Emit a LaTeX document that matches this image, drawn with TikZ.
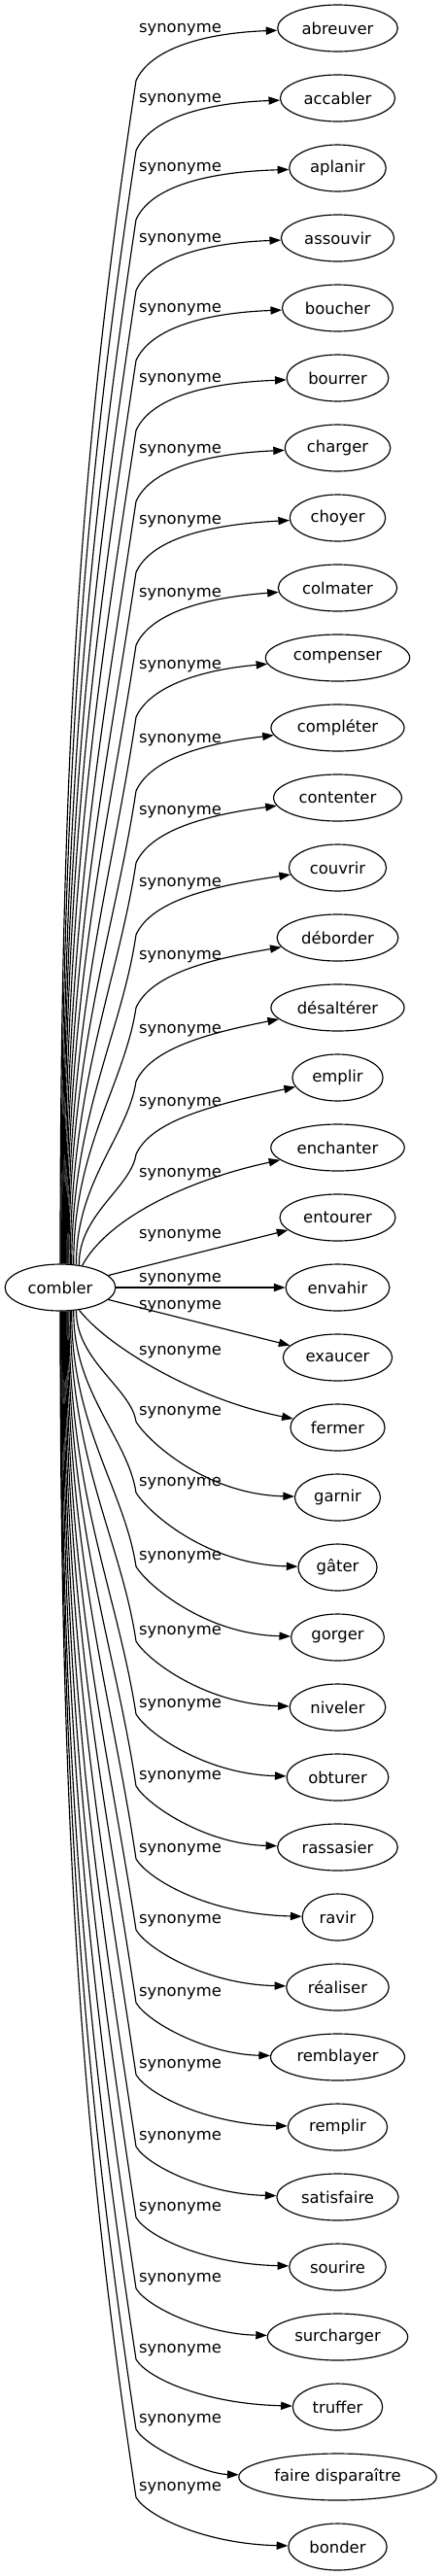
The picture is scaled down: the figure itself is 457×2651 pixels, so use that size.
\documentclass[tikz,border=0pt]{standalone}
\usepackage{fontspec}
\setmainfont{DejaVu Sans}
\usetikzlibrary{arrows.meta, shapes.geometric}
\tikzset{
	wordnode/.style={ellipse, draw, line width=0.58pt, inner xsep=3.4pt, inner ysep=0pt,
			minimum height=24pt, font=\fontsize{8.2pt}{9.8pt}\selectfont}
}
\tikzset{
	synlabel/.style={anchor=base, inner sep=0pt, font=\fontsize{8.2pt}{9.8pt}\selectfont}
}
\tikzset{
	synarrow/.style={line width=0.58pt, -{Triangle[length=5.8pt, width=4.1pt]}}
}
\begin{document}
\begin{tikzpicture}[x=0.5pt, y=-0.5pt]

			\useasboundingbox (0,0) rectangle (457,2651);

			\node[wordnode] (cb) at (62,1325) {combler};

			\begin{scope}
				\node[wordnode] (w1) at (347.5,29) {abreuver};
				\node[wordnode] (w2) at (347.5,101) {accabler};
				\node[wordnode] (w3) at (347.5,173) {aplanir};
				\node[wordnode] (w4) at (347.5,245) {assouvir};
				\node[wordnode] (w5) at (347.5,317) {boucher};
				\node[wordnode] (w6) at (347.5,389) {bourrer};
				\node[wordnode] (w7) at (347.5,461) {charger};
				\node[wordnode] (w8) at (347.5,533) {choyer};
				\node[wordnode] (w9) at (347.5,605) {colmater};
				\node[wordnode] (w10) at (347.5,677) {compenser};
				\node[wordnode] (w11) at (347.5,749) {compléter};
				\node[wordnode] (w12) at (347.5,821) {contenter};
				\node[wordnode] (w13) at (347.5,893) {couvrir};
				\node[wordnode] (w14) at (347.5,965) {déborder};
				\node[wordnode] (w15) at (347.5,1037) {désaltérer};
				\node[wordnode] (w16) at (347.5,1109) {emplir};
				\node[wordnode] (w17) at (347.5,1181) {enchanter};
				\node[wordnode] (w18) at (347.5,1253) {entourer};
				\node[wordnode] (w19) at (347.5,1325) {envahir};
				\node[wordnode] (w20) at (347.5,1397) {exaucer};
				\node[wordnode] (w21) at (347.5,1469) {fermer};
				\node[wordnode] (w22) at (347.5,1541) {garnir};
				\node[wordnode] (w23) at (347.5,1613) {gâter};
				\node[wordnode] (w24) at (347.5,1685) {gorger};
				\node[wordnode] (w25) at (347.5,1757) {niveler};
				\node[wordnode] (w26) at (347.5,1829) {obturer};
				\node[wordnode] (w27) at (347.5,1901) {rassasier};
				\node[wordnode] (w28) at (347.5,1973) {ravir};
				\node[wordnode] (w29) at (347.5,2045) {réaliser};
				\node[wordnode] (w30) at (347.5,2117) {remblayer};
				\node[wordnode] (w31) at (347.5,2189) {remplir};
				\node[wordnode] (w32) at (347.5,2261) {satisfaire};
				\node[wordnode] (w33) at (347.5,2333) {sourire};
				\node[wordnode] (w34) at (347.5,2405) {surcharger};
				\node[wordnode] (w35) at (347.5,2477) {truffer};
				\node[wordnode] (w36) at (347.5,2549) {faire disparaître};
				\node[wordnode] (w37) at (347.5,2621) {bonder};
			\end{scope}

			\begin{scope}
				\coordinate (k1) at (140,83);
				\coordinate (k2) at (140,155);
				\coordinate (k3) at (140,226);
				\coordinate (k4) at (140,299);
				\coordinate (k5) at (140,371);
				\coordinate (k6) at (140,443);
				\coordinate (k7) at (140,516);
				\coordinate (k8) at (140,589);
				\coordinate (k9) at (140,664);
				\coordinate (k10) at (140,738);
				\coordinate (k11) at (140,814);
				\coordinate (k12) at (140,888);
				\coordinate (k13) at (140,962);
				\coordinate (k14) at (140,1037);
				\coordinate (k15) at (140,1113);
				\coordinate (k16) at (140,1188);
				\coordinate (k22) at (140,1463);
				\coordinate (k23) at (140,1536);
				\coordinate (k24) at (140,1612);
				\coordinate (k25) at (140,1689);
				\coordinate (k26) at (140,1764);
				\coordinate (k27) at (140,1838);
				\coordinate (k28) at (140,1913);
				\coordinate (k29) at (140,1986);
				\coordinate (k30) at (140,2061);
				\coordinate (k31) at (140,2135);
				\coordinate (k32) at (140,2209);
				\coordinate (k33) at (140,2282);
				\coordinate (k34) at (140,2355);
				\coordinate (k35) at (140,2428);
				\coordinate (k36) at (140,2500);
				\coordinate (k37) at (140,2570);

				\draw[synarrow] (cb.90) .. controls (62,753) and (85,448) .. (k1) .. controls (155,50) and (210,34) .. (w1);
				\draw[synarrow] (cb.88) .. controls (63,785) and (88,499) .. (k2) .. controls (155,122) and (210,106) .. (w2);
				\draw[synarrow] (cb.86) .. controls (64,817) and (92,548) .. (k3) .. controls (155,193) and (210,177) .. (w3);
				\draw[synarrow] (cb.84) .. controls (64.5,850) and (95,600) .. (k4) .. controls (155,266) and (210,250) .. (w4);
				\draw[synarrow] (cb.82) .. controls (65,882) and (98,650) .. (k5) .. controls (155,338) and (210,322) .. (w5);
				\draw[synarrow] (cb.80) .. controls (66,915) and (101,700) .. (k6) .. controls (155,410) and (210,394) .. (w6);
				\draw[synarrow] (cb.78) .. controls (67,948) and (105,751) .. (k7) .. controls (155,483) and (210,467) .. (w7);
				\draw[synarrow] (cb.76) .. controls (68,981) and (108,803) .. (k8) .. controls (155,556) and (210,540) .. (w8);
				\draw[synarrow] (cb.74) .. controls (69,1014) and (111,855) .. (k9) .. controls (155,631) and (210,615) .. (w9);
				\draw[synarrow] (cb.72) .. controls (70,1048) and (115,907) .. (k10) .. controls (155,705) and (210,689) .. (w10);
				\draw[synarrow] (cb.70) .. controls (71,1082) and (118,960) .. (k11) .. controls (155,781) and (210,765) .. (w11);
				\draw[synarrow] (cb.67) .. controls (72.5,1115) and (121,1012) .. (k12) .. controls (155,855) and (210,839) .. (w12);
				\draw[synarrow] (cb.64) .. controls (74,1148) and (125,1064) .. (k13) .. controls (155,929) and (210,913) .. (w13);
				\draw[synarrow] (cb.60) .. controls (75,1182) and (128,1116) .. (k14) .. controls (155,1004) and (210,988) .. (w14);
				\draw[synarrow] (cb.55) .. controls (78,1216) and (131.5,1169) .. (k15) .. controls (155,1080) and (210,1064) .. (w15);
				\draw[synarrow] (cb.50) .. controls (80.5,1250) and (135,1222) .. (k16) .. controls (155,1155) and (210,1139) .. (w16);
				\draw[synarrow] (cb.45) .. controls (110,1255) and (190,1215) .. (w17);
				\draw[synarrow] (cb) -- (w18);
				\draw[synarrow] (cb) -- (w19);
				\draw[synarrow] (cb) -- (w20);
				\draw[synarrow] (cb.-50) .. controls (110,1385) and (200,1440) .. (w21);
				\draw[synarrow] (cb.-55) .. controls (78,1400) and (135,1429) .. (k22) .. controls (152,1483) and (212,1538) .. (w22);
				\draw[synarrow] (cb.-60) .. controls (75,1433) and (131.5,1480) .. (k23) .. controls (152,1556) and (212,1610) .. (w23);
				\draw[synarrow] (cb.-64) .. controls (73,1467) and (128,1533) .. (k24) .. controls (152,1632) and (212,1682) .. (w24);
				\draw[synarrow] (cb.-67) .. controls (72,1502) and (125,1587) .. (k25) .. controls (152,1709) and (212,1754) .. (w25);
				\draw[synarrow] (cb.-70) .. controls (70.5,1536) and (121,1640) .. (k26) .. controls (152,1784) and (212,1826) .. (w26);
				\draw[synarrow] (cb.-72) .. controls (69.5,1569) and (118,1691) .. (k27) .. controls (152,1858) and (212,1898) .. (w27);
				\draw[synarrow] (cb.-74) .. controls (68.7,1603) and (115,1744) .. (k28) .. controls (152,1933) and (212,1970) .. (w28);
				\draw[synarrow] (cb.-76) .. controls (67.8,1636) and (111,1795) .. (k29) .. controls (152,2006) and (212,2042) .. (w29);
				\draw[synarrow] (cb.-78) .. controls (67,1669) and (108,1847) .. (k30) .. controls (152,2081) and (212,2114) .. (w30);
				\draw[synarrow] (cb.-80) .. controls (66,1703) and (105,1899) .. (k31) .. controls (152,2155) and (212,2186) .. (w31);
				\draw[synarrow] (cb.-82) .. controls (65.3,1736) and (101,1951) .. (k32) .. controls (152,2229) and (212,2258) .. (w32);
				\draw[synarrow] (cb.-84) .. controls (64.5,1769) and (98,2002) .. (k33) .. controls (152,2302) and (212,2330) .. (w33);
				\draw[synarrow] (cb.-86) .. controls (63.6,1802) and (95,2053) .. (k34) .. controls (152,2375) and (212,2402) .. (w34);
				\draw[synarrow] (cb.-88) .. controls (62.8,1835) and (91,2104) .. (k35) .. controls (152,2448) and (212,2474) .. (w35);
				\draw[synarrow] (cb.-89) .. controls (62.4,1867) and (88,2155) .. (k36) .. controls (152,2520) and (212,2546) .. (w36);
				\draw[synarrow] (cb.-90) .. controls (62,1898) and (85,2204) .. (k37) .. controls (152,2590) and (212,2618) .. (w37);
			\end{scope}

			\begin{scope}
				\node[synlabel] (l1) at (185.5,33.5) {synonyme};
				\node[synlabel] (l2) at (185.5,105.5) {synonyme};
				\node[synlabel] (l3) at (185.5,176.5) {synonyme};
				\node[synlabel] (l4) at (185.5,249.5) {synonyme};
				\node[synlabel] (l5) at (185.5,321.5) {synonyme};
				\node[synlabel] (l6) at (185.5,393.5) {synonyme};
				\node[synlabel] (l7) at (185.5,466.5) {synonyme};
				\node[synlabel] (l8) at (185.5,539.5) {synonyme};
				\node[synlabel] (l9) at (185.5,614.5) {synonyme};
				\node[synlabel] (l10) at (185.5,688.5) {synonyme};
				\node[synlabel] (l11) at (185.5,764.5) {synonyme};
				\node[synlabel] (l12) at (185.5,838.5) {synonyme};
				\node[synlabel] (l13) at (185.5,912.5) {synonyme};
				\node[synlabel] (l14) at (185.5,987.5) {synonyme};
				\node[synlabel] (l15) at (185.5,1063.5) {synonyme};
				\node[synlabel] (l16) at (185.5,1138.5) {synonyme};
				\node[synlabel] (l17) at (185.5,1211.5) {synonyme};
				\node[synlabel] (l18) at (185.5,1274.5) {synonyme};
				\node[synlabel] (l19) at (185.5,1319.5) {synonyme};
				\node[synlabel] (l20) at (185.5,1347.5) {synonyme};
				\node[synlabel] (l21) at (185.5,1394.5) {synonyme};
				\node[synlabel] (l22) at (185.5,1456.5) {synonyme};
				\node[synlabel] (l23) at (185.5,1529.5) {synonyme};
				\node[synlabel] (l24) at (185.5,1605.5) {synonyme};
				\node[synlabel] (l25) at (185.5,1682.5) {synonyme};
				\node[synlabel] (l26) at (185.5,1757.5) {synonyme};
				\node[synlabel] (l27) at (185.5,1831.5) {synonyme};
				\node[synlabel] (l28) at (185.5,1906.5) {synonyme};
				\node[synlabel] (l29) at (185.5,1979.5) {synonyme};
				\node[synlabel] (l30) at (185.5,2054.5) {synonyme};
				\node[synlabel] (l31) at (185.5,2128.5) {synonyme};
				\node[synlabel] (l32) at (185.5,2202.5) {synonyme};
				\node[synlabel] (l33) at (185.5,2275.5) {synonyme};
				\node[synlabel] (l34) at (185.5,2348.5) {synonyme};
				\node[synlabel] (l35) at (185.5,2421.5) {synonyme};
				\node[synlabel] (l36) at (185.5,2493.5) {synonyme};
				\node[synlabel] (l37) at (185.5,2563.5) {synonyme};
			\end{scope}

		\end{tikzpicture}
\end{document}
